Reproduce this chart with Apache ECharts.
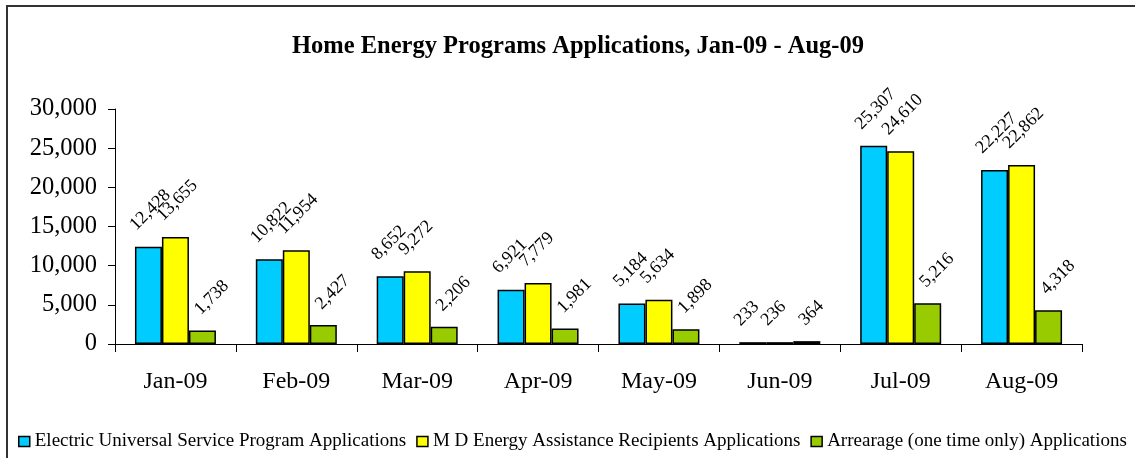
<!DOCTYPE html>
<html>
<head>
<meta charset="utf-8">
<script src="https://cdn.jsdelivr.net/npm/echarts@6/dist/echarts.min.js"></script>
<style>
  html, body { margin: 0; padding: 0; background: #fff; }
  #chart { width: 1135px; height: 458px; }
</style>
</head>
<body>
<div id="chart"></div>
<script>
var months = ['Jan-09', 'Feb-09', 'Mar-09', 'Apr-09', 'May-09', 'Jun-09', 'Jul-09', 'Aug-09'];
var electricApps = [12428, 10822, 8652, 6921, 5184, 233, 25307, 22227];
var mdEnergyApps = [13655, 11954, 9272, 7779, 5634, 236, 24610, 22862];
var arrearageApps = [1738, 2427, 2206, 1981, 1898, 364, 5216, 4318];
var yTicks = [0, 5000, 10000, 15000, 20000, 25000, 30000];

var FONT = 'Liberation Serif';

function fmt(v) {
    return String(v).replace(/\B(?=(\d{3})+(?!\d))/g, ',');
}

// rotated value label above each bar (offset is in the rotated frame)
function barLabel(off) {
    return {
        show: true,
        position: 'top',
        rotate: 45,
        align: 'left',
        verticalAlign: 'middle',
        distance: 5,
        offset: off,
        fontFamily: FONT,
        fontSize: 18,
        color: '#000',
        formatter: function (p) { return fmt(p.value); }
    };
}

function makeSeries(name, data, color, off) {
    return {
        name: name,
        type: 'bar',
        data: data,
        barWidth: 27,
        barGap: '0%',
        itemStyle: { color: color, borderColor: '#000', borderWidth: 1.5 },
        label: barLabel(off),
        emphasis: { disabled: true }
    };
}

var chart = echarts.init(document.getElementById('chart'));
chart.setOption({
    animation: false,
    backgroundColor: '#fff',
    graphic: [{
        type: 'rect',
        shape: { x: 7, y: 6, width: 1150, height: 470 },
        style: { fill: 'none', stroke: '#333', lineWidth: 2 },
        silent: true
    }],
    title: {
        text: 'Home Energy Programs Applications, Jan-09 - Aug-09',
        left: 573,
        top: 29,
        textAlign: 'center',
        textStyle: { fontFamily: FONT, fontSize: 24.5, fontWeight: 'bold', color: '#000' }
    },
    legend: {
        left: 18,
        top: 432,
        width: 1117,
        padding: 0,
        itemWidth: 11,
        itemHeight: 10,
        itemGap: 10,
        icon: 'rect',
        textStyle: { fontFamily: FONT, fontSize: 19, color: '#000' },
        itemStyle: { borderColor: '#000', borderWidth: 1.5 },
        data: [
            'Electric Universal Service Program Applications',
            'M D Energy Assistance Recipients Applications',
            'Arrearage (one time only) Applications'
        ]
    },
    grid: { left: 115, right: 53, top: 109, bottom: 114 },
    xAxis: {
        type: 'category',
        data: months,
        axisLine: { lineStyle: { color: '#000', width: 1 } },
        axisTick: { show: true, length: 8, lineStyle: { color: '#000' } },
        axisLabel: { fontFamily: FONT, fontSize: 24, color: '#000', margin: 26 }
    },
    yAxis: {
        type: 'value',
        min: yTicks[0],
        max: yTicks[yTicks.length - 1],
        interval: 5000,
        axisLine: { show: true, lineStyle: { color: '#000', width: 1 } },
        axisTick: { show: true, length: 7, lineStyle: { color: '#000' } },
        splitLine: { show: false },
        axisLabel: {
            fontFamily: FONT, fontSize: 24.5, color: '#000', margin: 18,
            formatter: function (v) { return fmt(v); }
        }
    },
    series: [
        makeSeries('Electric Universal Service Program Applications', electricApps, '#00CCFF', [-1, -21]),
        makeSeries('M D Energy Assistance Recipients Applications', mdEnergyApps, '#FFFF00', [-1, -21]),
        makeSeries('Arrearage (one time only) Applications', arrearageApps, '#99CC00', [6, -13])
    ]
});
</script>
</body>
</html>
